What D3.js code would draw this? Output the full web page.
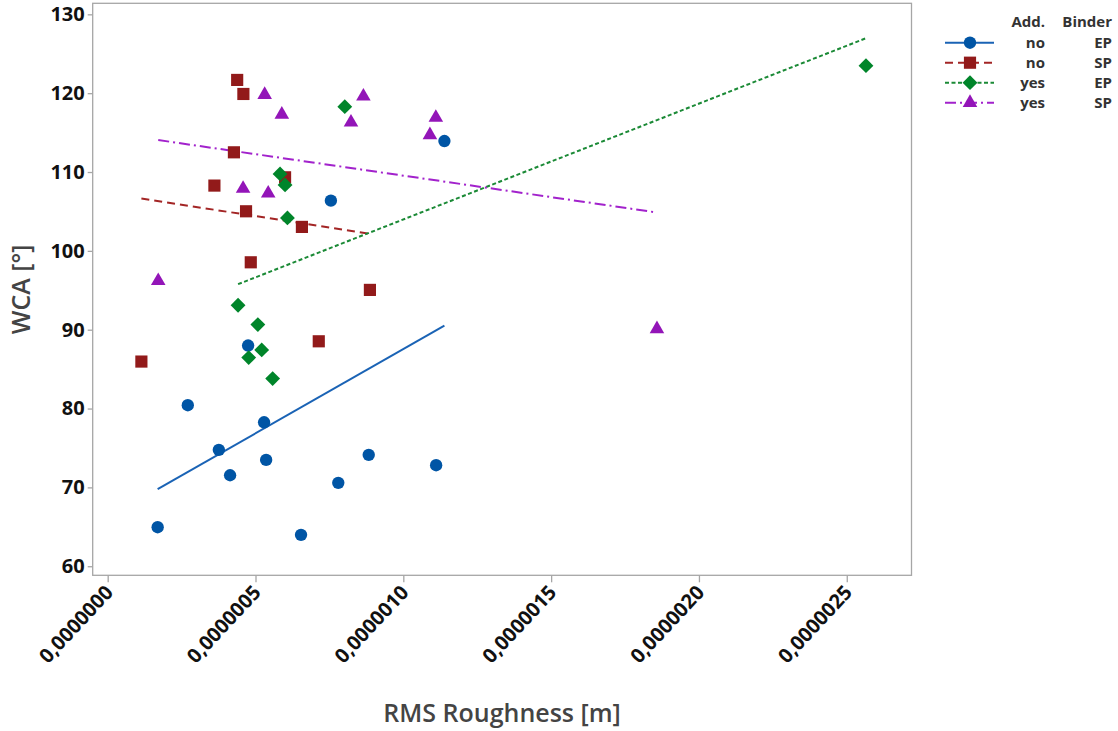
<!DOCTYPE html>
<html>
<head>
<meta charset="utf-8">
<script src="https://cdn.jsdelivr.net/npm/d3@7/dist/d3.min.js"></script>
<style>
  body { margin: 0; background: #fff; }
  svg text { font-family: "Open Sans", "Noto Sans", sans-serif; }
</style>
</head>
<body>
<div id="chart"></div>
<script>
// RMS roughness in units of 1e-7 m, WCA in degrees
const noEpX = [1.69, 2.71, 3.76, 4.14, 4.75, 5.29, 5.36, 6.54, 7.80, 8.83, 11.11, 7.55, 11.39];
const noEpY = [64.95, 80.42, 74.76, 71.54, 87.99, 78.26, 73.49, 63.98, 70.58, 74.13, 72.81, 106.37, 113.93];

const noSpX = [4.38, 4.59, 4.27, 3.61, 4.68, 6.00, 6.57, 4.84, 8.87, 7.14, 1.14];
const noSpY = [121.68, 119.90, 112.50, 108.28, 105.02, 109.33, 103.04, 98.55, 95.05, 88.53, 85.96];

const yesEpX = [8.02, 5.83, 6.00, 6.08, 4.41, 5.08, 5.21, 4.77, 5.58, 25.65];
const yesEpY = [118.29, 109.76, 108.36, 104.18, 93.10, 90.65, 87.44, 86.46, 83.80, 123.49];

const yesSpX = [5.31, 5.89, 8.65, 8.23, 4.58, 5.43, 11.10, 10.90, 1.71, 18.58];
const yesSpY = [119.8, 117.3, 119.6, 116.3, 107.9, 107.3, 116.9, 114.7, 96.2, 90.1];

const addLabels = ['no', 'no', 'yes', 'yes'];
const binderLabels = ['EP', 'SP', 'EP', 'SP'];

const xTicks = [0, 5e-7, 10e-7, 15e-7, 20e-7, 25e-7];
const yTicks = [60, 70, 80, 90, 100, 110, 120, 130];

const groups = [
  { xs: noEpX, ys: noEpY, color: '#0055a5', line: '#1a63b5', dash: null, symbol: d3.symbolCircle, size: 120, rot: 0 },
  { xs: noSpX, ys: noSpY, color: '#921a1a', line: '#a32525', dash: '8,5', symbol: d3.symbolSquare, size: 148, rot: 0 },
  { xs: yesEpX, ys: yesEpY, color: '#00852a', line: '#1b8a36', dash: '4,2.5', symbol: d3.symbolSquare, size: 110, rot: 45 },
  { xs: yesSpX, ys: yesSpY, color: '#9315b8', line: '#a222cc', dash: '11,4,2,4', symbol: d3.symbolTriangle, size: 92, rot: 0 }
];

const W = 1118, H = 731;
const plotL = 92.7, plotR = 911.5, plotT = 3.3, plotB = 575.3;

const x = d3.scaleLinear().domain([-0.0507e-6, 2.719e-6]).range([plotL, plotR]);
const y = d3.scaleLinear().domain([58.85, 131.4]).range([plotB, plotT]);

const svg = d3.select('#chart').append('svg').attr('width', W).attr('height', H);

svg.append('rect')
  .attr('x', plotL).attr('y', plotT)
  .attr('width', plotR - plotL).attr('height', plotB - plotT)
  .attr('fill', 'none').attr('stroke', '#a6a6a6').attr('stroke-width', 1.3);

const fmt = d3.format('.7f');

const xAxis = svg.append('g')
  .attr('transform', `translate(0,${plotB})`)
  .call(d3.axisBottom(x).tickValues(xTicks).tickSize(7).tickFormat(d => fmt(d).replace('.', ',')));
xAxis.select('.domain').remove();
xAxis.selectAll('line').attr('stroke', '#a6a6a6').attr('stroke-width', 1.3);
xAxis.selectAll('text')
  .attr('fill', '#111').attr('font-size', 20).attr('font-weight', 700)
  .attr('text-anchor', 'end')
  .attr('dy', 0).attr('y', 0)
  .attr('transform', 'translate(6,18) rotate(-47)');

const yAxis = svg.append('g')
  .attr('transform', `translate(${plotL},0)`)
  .call(d3.axisLeft(y).tickValues(yTicks).tickSize(5));
yAxis.select('.domain').remove();
yAxis.selectAll('line').attr('stroke', '#a6a6a6').attr('stroke-width', 1.3);
yAxis.selectAll('text')
  .attr('fill', '#111').attr('font-size', 20).attr('font-weight', 700)
  .attr('x', -8);

svg.append('text')
  .attr('transform', `translate(30,${(plotT + plotB) / 2}) rotate(-90)`)
  .attr('text-anchor', 'middle')
  .attr('font-size', 25).attr('font-weight', 600).attr('fill', '#444')
  .text('WCA [°]');

svg.append('text')
  .attr('x', (plotL + plotR) / 2).attr('y', 722)
  .attr('text-anchor', 'middle')
  .attr('font-size', 25).attr('font-weight', 600).attr('fill', '#444')
  .text('RMS Roughness [m]');

// least squares fit, drawn over each group's x range
function fit(xs, ys) {
  const mx = d3.mean(xs), my = d3.mean(ys);
  let sxy = 0, sxx = 0;
  xs.forEach((v, i) => { sxy += (v - mx) * (ys[i] - my); sxx += (v - mx) * (v - mx); });
  const b = sxy / sxx, a = my - b * mx;
  const [x0, x1] = d3.extent(xs);
  return [[x0, a + b * x0], [x1, a + b * x1]];
}

const line = d3.line().x(d => x(d[0] * 1e-7)).y(d => y(d[1]));

groups.forEach(g => {
  svg.append('path')
    .attr('d', line(fit(g.xs, g.ys)))
    .attr('fill', 'none').attr('stroke', g.line).attr('stroke-width', 2)
    .attr('stroke-dasharray', g.dash);
});

groups.forEach(g => {
  svg.append('g').selectAll('path')
    .data(g.xs.map((v, i) => [v, g.ys[i]]))
    .join('path')
    .attr('transform', d => `translate(${x(d[0] * 1e-7)},${y(d[1])}) rotate(${g.rot})`)
    .attr('d', d3.symbol(g.symbol, g.size))
    .attr('fill', g.color);
});

// legend
const lg = svg.append('g')
  .attr('font-family', '"DejaVu Sans", sans-serif')
  .attr('font-size', 15).attr('font-weight', 700).attr('fill', '#333');
lg.append('text').attr('x', 1045).attr('y', 27).attr('text-anchor', 'end').text('Add.');
lg.append('text').attr('x', 1112).attr('y', 27).attr('text-anchor', 'end').text('Binder');
groups.forEach((g, i) => {
  const cy = 42.7 + i * 20;
  lg.append('line')
    .attr('x1', 945).attr('x2', 994).attr('y1', cy).attr('y2', cy)
    .attr('stroke', g.line).attr('stroke-width', 2).attr('stroke-dasharray', g.dash);
  lg.append('path')
    .attr('transform', `translate(970,${cy}) rotate(${g.rot})`)
    .attr('d', d3.symbol(g.symbol, g.size))
    .attr('fill', g.color);
  lg.append('text').attr('x', 1045).attr('y', cy + 5.5).attr('text-anchor', 'end').text(addLabels[i]);
  lg.append('text').attr('x', 1112).attr('y', cy + 5.5).attr('text-anchor', 'end').text(binderLabels[i]);
});
</script>
</body>
</html>
